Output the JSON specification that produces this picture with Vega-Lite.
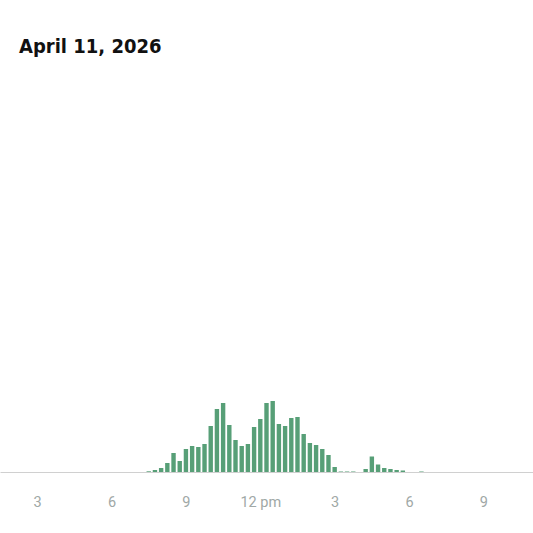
{
  "$schema": "https://vega.github.io/schema/vega-lite/v6.json",
  "width": 533,
  "height": 400,
  "autosize": "none",
  "padding": {"top": 72, "left": 0, "right": 0, "bottom": 61},
  "background": "white",
  "title": {
    "text": "April 11, 2026",
    "anchor": "start",
    "frame": "group",
    "dx": 19,
    "offset": -1,
    "baseline": "alphabetic",
    "font": "'Liberation Sans Narrow', 'DejaVu Sans Condensed', 'Roboto Condensed', sans-serif",
    "fontSize": 20,
    "fontWeight": "bold",
    "color": "#111111"
  },
  "config": {
    "view": {"stroke": null},
    "font": "Roboto"
  },
  "data": {
    "values": [
      {"hour": 7.5, "count": 0.7},
      {"hour": 7.75, "count": 2},
      {"hour": 8.0, "count": 4},
      {"hour": 8.25, "count": 9},
      {"hour": 8.5, "count": 19},
      {"hour": 8.75, "count": 11},
      {"hour": 9.0, "count": 23},
      {"hour": 9.25, "count": 26},
      {"hour": 9.5, "count": 25},
      {"hour": 9.75, "count": 28},
      {"hour": 10.0, "count": 46},
      {"hour": 10.25, "count": 63},
      {"hour": 10.5, "count": 69},
      {"hour": 10.75, "count": 47},
      {"hour": 11.0, "count": 32},
      {"hour": 11.25, "count": 26},
      {"hour": 11.5, "count": 28},
      {"hour": 11.75, "count": 45},
      {"hour": 12.0, "count": 53},
      {"hour": 12.25, "count": 69},
      {"hour": 12.5, "count": 71},
      {"hour": 12.75, "count": 48},
      {"hour": 13.0, "count": 46},
      {"hour": 13.25, "count": 54},
      {"hour": 13.5, "count": 55},
      {"hour": 13.75, "count": 38},
      {"hour": 14.0, "count": 29},
      {"hour": 14.25, "count": 27},
      {"hour": 14.5, "count": 23},
      {"hour": 14.75, "count": 17},
      {"hour": 15.0, "count": 5},
      {"hour": 15.25, "count": 0.5},
      {"hour": 15.5, "count": 0.5},
      {"hour": 15.75, "count": 0.5},
      {"hour": 16.25, "count": 3},
      {"hour": 16.5, "count": 15.5},
      {"hour": 16.75, "count": 7.5},
      {"hour": 17.0, "count": 4},
      {"hour": 17.25, "count": 3},
      {"hour": 17.5, "count": 2},
      {"hour": 17.75, "count": 1.5},
      {"hour": 18.5, "count": 0.5}
    ]
  },
  "mark": {"type": "bar", "width": 4.4, "color": "#579f77"},
  "encoding": {
    "x": {
      "field": "hour",
      "type": "quantitative",
      "scale": {"domain": [1.5, 23.0], "nice": false, "zero": false, "padding": 0},
      "axis": {
        "title": null,
        "values": [3, 6, 9, 12, 15, 18, 21],
        "labelExpr": "datum.value == 12 ? '12 pm' : datum.value > 12 ? '' + (datum.value - 12) : '' + datum.value",
        "grid": false,
        "ticks": false,
        "tickSize": 0,
        "domainColor": "#d0d0d0",
        "domainWidth": 1,
        "labelColor": "#a0a8a6",
        "labelFont": "Roboto",
        "labelFontSize": 14.5,
        "labelBaseline": "middle",
        "labelPadding": 30,
        "labelFlush": false,
        "labelOverlap": false
      }
    },
    "y": {
      "field": "count",
      "type": "quantitative",
      "scale": {"domain": [0, 400], "nice": false},
      "axis": null
    }
  }
}
